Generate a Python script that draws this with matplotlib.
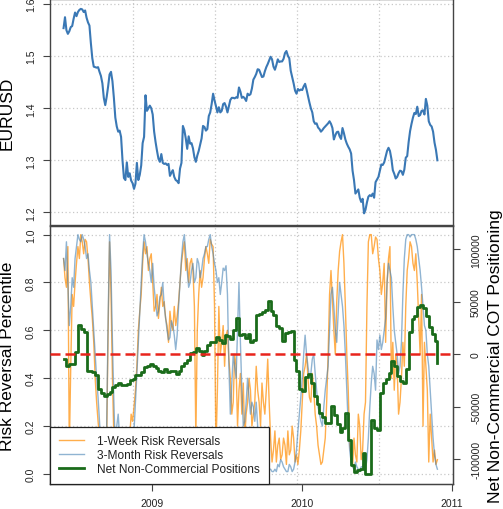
import numpy as np
import pandas as pd
import matplotlib
matplotlib.use("Agg")
import matplotlib.pyplot as plt
import matplotlib.dates as mdates
from datetime import datetime

plt.rcParams['font.family'] = ['Liberation Sans', 'DejaVu Sans']

# ---------------- data ----------------
start_date = "2008-05-30"

# EURUSD, twice a week
eurusd = [1.554, 1.575, 1.550, 1.543, 1.548, 1.556, 1.558, 1.572, 1.584, 1.577,
          1.585, 1.589, 1.591, 1.590, 1.585, 1.588, 1.574, 1.565, 1.559, 1.525,
          1.496, 1.480, 1.479, 1.478, 1.479, 1.470, 1.462, 1.448, 1.420, 1.406,
          1.422, 1.442, 1.465, 1.470, 1.452, 1.420, 1.382, 1.365, 1.355, 1.357,
          1.345, 1.300, 1.266, 1.262, 1.296, 1.268, 1.275, 1.261, 1.256, 1.245,
          1.255, 1.295, 1.262, 1.272, 1.290, 1.333, 1.345, 1.425, 1.395, 1.400,
          1.405, 1.400, 1.388, 1.355, 1.335, 1.318, 1.303, 1.297, 1.312, 1.295,
          1.293, 1.294, 1.291, 1.293, 1.270, 1.276, 1.281, 1.268, 1.262, 1.260,
          1.256, 1.284, 1.295, 1.366, 1.358, 1.342, 1.322, 1.346, 1.332, 1.333,
          1.323, 1.306, 1.297, 1.309, 1.318, 1.330, 1.342, 1.366, 1.364, 1.357,
          1.360, 1.385, 1.392, 1.408, 1.428, 1.415, 1.404, 1.392, 1.402, 1.392,
          1.395, 1.408, 1.410, 1.403, 1.392, 1.404, 1.416, 1.420, 1.420, 1.419,
          1.421, 1.420, 1.440, 1.432, 1.420, 1.422, 1.419, 1.414, 1.428, 1.425,
          1.427, 1.438, 1.455, 1.460, 1.466, 1.475, 1.474, 1.467, 1.460, 1.461,
          1.471, 1.479, 1.485, 1.492, 1.499, 1.494, 1.480, 1.474, 1.483, 1.494,
          1.489, 1.490, 1.490, 1.495, 1.506, 1.510, 1.501, 1.496, 1.472, 1.460,
          1.448, 1.434, 1.428, 1.437, 1.434, 1.436, 1.435, 1.442, 1.447, 1.436,
          1.423, 1.411, 1.400, 1.392, 1.375, 1.370, 1.371, 1.363, 1.360, 1.355,
          1.358, 1.362, 1.365, 1.368, 1.371, 1.375, 1.370, 1.362, 1.340, 1.348,
          1.354, 1.355, 1.346, 1.341, 1.362, 1.352, 1.340, 1.332, 1.326, 1.321,
          1.313, 1.280, 1.262, 1.236, 1.240, 1.244, 1.228, 1.220, 1.226, 1.198,
          1.205, 1.219, 1.230, 1.233, 1.231, 1.236, 1.228, 1.258, 1.263, 1.268,
          1.280, 1.292, 1.291, 1.296, 1.307, 1.318, 1.324, 1.318, 1.303, 1.281,
          1.274, 1.265, 1.268, 1.275, 1.280, 1.279, 1.272, 1.282, 1.305, 1.308,
          1.335, 1.356, 1.370, 1.382, 1.391, 1.389, 1.403, 1.385, 1.387, 1.395,
          1.396, 1.388, 1.418, 1.405, 1.375, 1.368, 1.365, 1.355, 1.334, 1.320,
          1.300]

# risk reversal percentiles, twice a week
rr_1week = [.90, .82, .78, .95, .10, .45, .75, .70, .80, .88,
            .95, .90, 1.00, .97, .92, .98, .97, .90, .80, .72,
            .65, .55, .40, .30, .22, .15, .08, .04, .03, .10,
            .15, .60, .97, .75, .40, .15, .05, .10, .02, .08,
            .05, .02, .10, .06, .05, .12, .15, .25, .22, .28,
            .35, .45, .60, .68, .75, .88, .97, .92, .95, .85,
            .90, .92, .80, .68, .70, .75, .65, .72, .78, .70,
            .72, .65, .62, .55, .68, .62, .60, .70, .62, .66,
            .72, .80, .88, .93, .97, .85, .90, .80, .88, .90,
            .85, .70, .15, .60, .75, .85, .78, .82, .90, .95,
            .92, .88, .98, .96, .95, .70, .10, .35, .70, .50,
            .55, .62, .45, .58, .60, .48, .40, .25, .30, .50,
            .45, .20, .35, .42, .25, .38, .15, .25, .30, .40,
            .35, .20, .25, .30, .45, .35, .30, .20, .38, .30,
            .25, .35, .48, .30, .15, .05, .10, .18, .05, .12,
            .15, .06, .08, .15, .12, .04, .18, .08, .10, .20,
            .15, .05, .08, .04, .10, .18, .30, .42, .45, .50,
            .40, .32, .30, .42, .35, .25, .20, .12, .08, .04,
            .05, .10, .15, .30, .50, .75, .85, .72, .60, .50,
            .72, .85, .93, .97, 1.00, .88, .70, .50, .35, .12,
            .08, .03, .15, .08, .05, .25, .20, .06, .10, .25,
            .30, .70, .97, 1.00, 1.00, .92, .95, .99, .98, .90,
            .85, .75, .80, .88, .55, .80, .90, .95, .40, .55,
            .35, .50, .45, .25, .30, .40, .55, .45, .70, .85,
            .90, .97, .95, .88, .85, .92, .80, .65, .50, .75,
            .20, .55, .45, .35, .05, .25, .15, .05, .10, .04,
            .06]

rr_3month = [.90, .85, .97, .80, .62, .70, .82, .78, .90, .95,
             1.00, .98, .97, 1.00, .98, .95, .90, .92, .85, .80,
             .70, .60, .50, .40, .32, .22, .12, .08, .05, .08,
             .20, .65, 1.00, .85, .55, .30, .10, .20, .25, .15,
             .10, .05, .05, .10, .08, .04, .03, .06, .10, .18,
             .30, .42, .55, .68, .80, .92, 1.00, .97, .92, .88,
             .85, .80, .88, .78, .72, .66, .68, .74, .75, .80,
             .70, .65, .60, .56, .57, .64, .62, .58, .52, .58,
             .70, .80, .90, .97, 1.00, .92, .85, .78, .80, .85,
             .88, .80, .82, .90, .88, .82, .85, .90, .92, .95,
             .95, .98, 1.00, .95, .92, .88, .85, .80, .82, .75,
             .80, .86, .85, .87, .75, .45, .25, .38, .50, .45,
             .40, .60, .80, .55, .35, .20, .22, .30, .40, .32,
             .25, .30, .28, .22, .30, .20, .15, .12, .10, .06,
             .05, .04, .03, .02, .02, .01, .01, .02, .01, .04,
             .03, .06, .05, .03, .02, .01, .01, .04, .03, .01,
             .02, .05, .10, .18, .25, .32, .40, .50, .58, .50,
             .45, .40, .42, .48, .50, .42, .35, .28, .25, .22,
             .20, .28, .35, .40, .45, .60, .75, .78, .70, .60,
             .55, .68, .80, .75, .70, .62, .50, .35, .20, .10,
             .05, .03, .02, .05, .03, .02, .01, .03, .03, .05,
             .02, .06, .15, .28, .38, .45, .42, .35, .56, .52,
             .58, .52, .55, .60, .65, .80, .88, .85, .82, .70,
             .60, .55, .50, .42, .45, .55, .75, .90, .98, 1.00,
             1.00, .99, 1.00, 1.00, 1.00, .98, .95, .90, .85, .78,
             .70, .62, .60, .50, .45, .35, .25, .15, .08, .04,
             .02]

# net non-commercial COT positions, weekly
cot_net = [-4000, -11000, -9000, -9000, 2000, 28000, 24000, 21000, -15500, -15500,
           -16500, -19600, -33000, -36700, -39300, -37700, -36000, -31300, -29700, -27100,
           -29700, -29700, -28100, -24900, -23300, -20100, -19600, -16900, -12300, -10700,
           -9200, -10700, -13100, -15500, -16500, -14000, -16900, -15500, -15500, -18500,
           -15500, -10700, -8100, -5900, 1400, 1900, 6200, 2700, -1000, 2700,
           8900, 11500, 11500, 16300, 13200, 11000, 18000, 17500, 14800, 22800,
           34500, 18700, 19700, 15500, 19700, 12000, 14000, 37000, 38000, 40000,
           42000, 51000, 41000, 37000, 27000, 25000, 12800, 20000, 20800, 22400,
           -5000, -16000, -33000, -35300, -22000, -19200, -27000, -40000, -47000, -56000,
           -59300, -65000, -65700, -49700, -58000, -66000, -73700, -70500, -56100, -81700,
           -105000, -112000, -110000, -109000, -94500, -113800, -113800, -62500, -70500, -72100,
           -36900, -27200, -24000, -17600, -6400, -11200, -20800, -25600, -27200, -14400,
           20800, 33700, 36900, 44900, 47100, 44000, 36900, 25600, 19200, 12800,
           -8000]

year_ticks = [2009, 2010, 2011]
eur_ticks = [1.2, 1.3, 1.4, 1.5, 1.6]
pct_ticks = [0.0, 0.2, 0.4, 0.6, 0.8, 1.0]
cot_ticks = [-100000, -50000, 0, 50000, 100000]
grid_dates = ["2008-11-15", "2009-06-03", "2009-12-20", "2010-07-08"]

dates_half = pd.date_range(start_date, periods=len(eurusd), freq="84h")
dates_week = pd.date_range(start_date, periods=len(cot_net), freq="7D")

# ---------------- figure ----------------
W, H = 503, 510
fig = plt.figure(figsize=(W / 100, H / 100), dpi=100)

def fx(px):
    return px / W

def fy(py):
    return 1 - py / H

L, R = 50, 453
ax_top = fig.add_axes([fx(L), fy(226), fx(R - L), fy(0) - fy(226)])
ax_bot = fig.add_axes([fx(L), fy(485), fx(R - L), fy(227) - fy(485)])

xlim = (mdates.date2num(datetime(2008, 4, 27)), mdates.date2num(datetime(2011, 1, 3)))

frame_col = '#444444'
grid_kw = dict(color='#c8c8c8', linestyle=(0, (1, 2)), linewidth=0.9)
tick_col = '#222222'

for ax in (ax_top, ax_bot):
    ax.set_xlim(*xlim)
    for s in ax.spines.values():
        s.set_color(frame_col)
        s.set_linewidth(1.0)
    ax.set_xticks([mdates.date2num(pd.Timestamp(d)) for d in grid_dates], minor=True)
    ax.grid(True, which='minor', axis='x', **grid_kw)
    ax.grid(True, which='major', axis='y', **grid_kw)
    ax.set_axisbelow(True)
    ax.tick_params(axis='x', which='minor', length=0)

# ---- top panel ----
ax_top.plot(dates_half, eurusd, color='#3a78b5', lw=1.5, zorder=3)
ax_top.set_ylim(1.1756, 1.610)
ax_top.set_yticks(eur_ticks)
ax_top.set_yticklabels([f"{t:.1f}" for t in eur_ticks])
ax_top.tick_params(axis='y', labelrotation=90, labelsize=7.5, length=5, width=0.8,
                   color=frame_col, labelcolor=tick_col, pad=5)
for lab in ax_top.get_yticklabels():
    lab.set_va('center')
ax_top.xaxis.set_major_locator(matplotlib.ticker.NullLocator())
ax_top.set_ylabel("EURUSD", fontsize=12.5)
ax_top.yaxis.label.set_va('center')
ax_top.yaxis.set_label_coords((7.5 - L) / (R - L), 0.5)

# ---- bottom panel ----
l1, = ax_bot.plot(dates_half, rr_1week, color='#FF8C00', lw=1.0, alpha=0.7, zorder=2,
                  label='1-Week Risk Reversals')
l2, = ax_bot.plot(dates_half, rr_3month, color='#4682B4', lw=1.0, alpha=0.6, zorder=2,
                  label='3-Month Risk Reversals')
ax_bot.set_ylim(-0.0418, 1.036)
ax_bot.set_yticks(pct_ticks)
ax_bot.set_yticklabels([f"{t:.1f}" for t in pct_ticks])
ax_bot.tick_params(axis='y', labelrotation=90, labelsize=7.5, length=5, width=0.8,
                   color=frame_col, labelcolor=tick_col, pad=5)
for lab in ax_bot.get_yticklabels():
    lab.set_va('center')
ax_bot.set_xticks([mdates.date2num(datetime(y, 1, 1)) for y in year_ticks])
ax_bot.set_xticklabels([str(y) for y in year_ticks])
ax_bot.tick_params(axis='x', which='major', labelsize=7.5, length=5, width=0.8,
                   color=frame_col, labelcolor=tick_col, pad=5)
ax_bot.set_ylabel("Risk Reversal Percentile", fontsize=12.5)
ax_bot.yaxis.label.set_va('center')
ax_bot.yaxis.set_label_coords((7.5 - L) / (R - L), 0.5)

ax2 = ax_bot.twinx()
ax2.set_xlim(*xlim)
ax2.set_ylim(-0.5418 * 228050, 0.536 * 228050)
l3, = ax2.step(dates_week, cot_net, where='post', color='#1a6b1a', lw=2.0, zorder=3,
               label='Net Non-Commercial Positions')
ax2.axhline(0, color='#e8241c', lw=1.8, dashes=(4, 2), zorder=4)
ax2.set_yticks(cot_ticks)
ax2.set_yticklabels([str(t) for t in cot_ticks])
ax2.tick_params(axis='y', labelrotation=90, labelsize=7.5, length=5, width=0.8,
                color=frame_col, labelcolor=tick_col, pad=8)
for lab in ax2.get_yticklabels():
    lab.set_va('center')
for s in ax2.spines.values():
    s.set_color(frame_col)
ax2.set_ylabel("Net Non-Commercial COT Positioning", fontsize=12.5, rotation=90)
ax2.yaxis.label.set_va('center')
ax2.yaxis.set_label_coords((495.5 - L) / (R - L), 0.5)

leg = ax2.legend(handles=[l1, l2, l3], loc='lower left', bbox_to_anchor=(0, 0),
                 borderaxespad=0, fontsize=8.6, frameon=True, fancybox=False,
                 framealpha=1, edgecolor='#222222', handlelength=2.1,
                 handletextpad=1.1, labelspacing=0.15, borderpad=0.75)
leg.get_frame().set_linewidth(0.9)
leg.set_zorder(10)
for t in leg.get_texts():
    t.set_color('#222222')

fig.savefig("out.png", dpi=100)
